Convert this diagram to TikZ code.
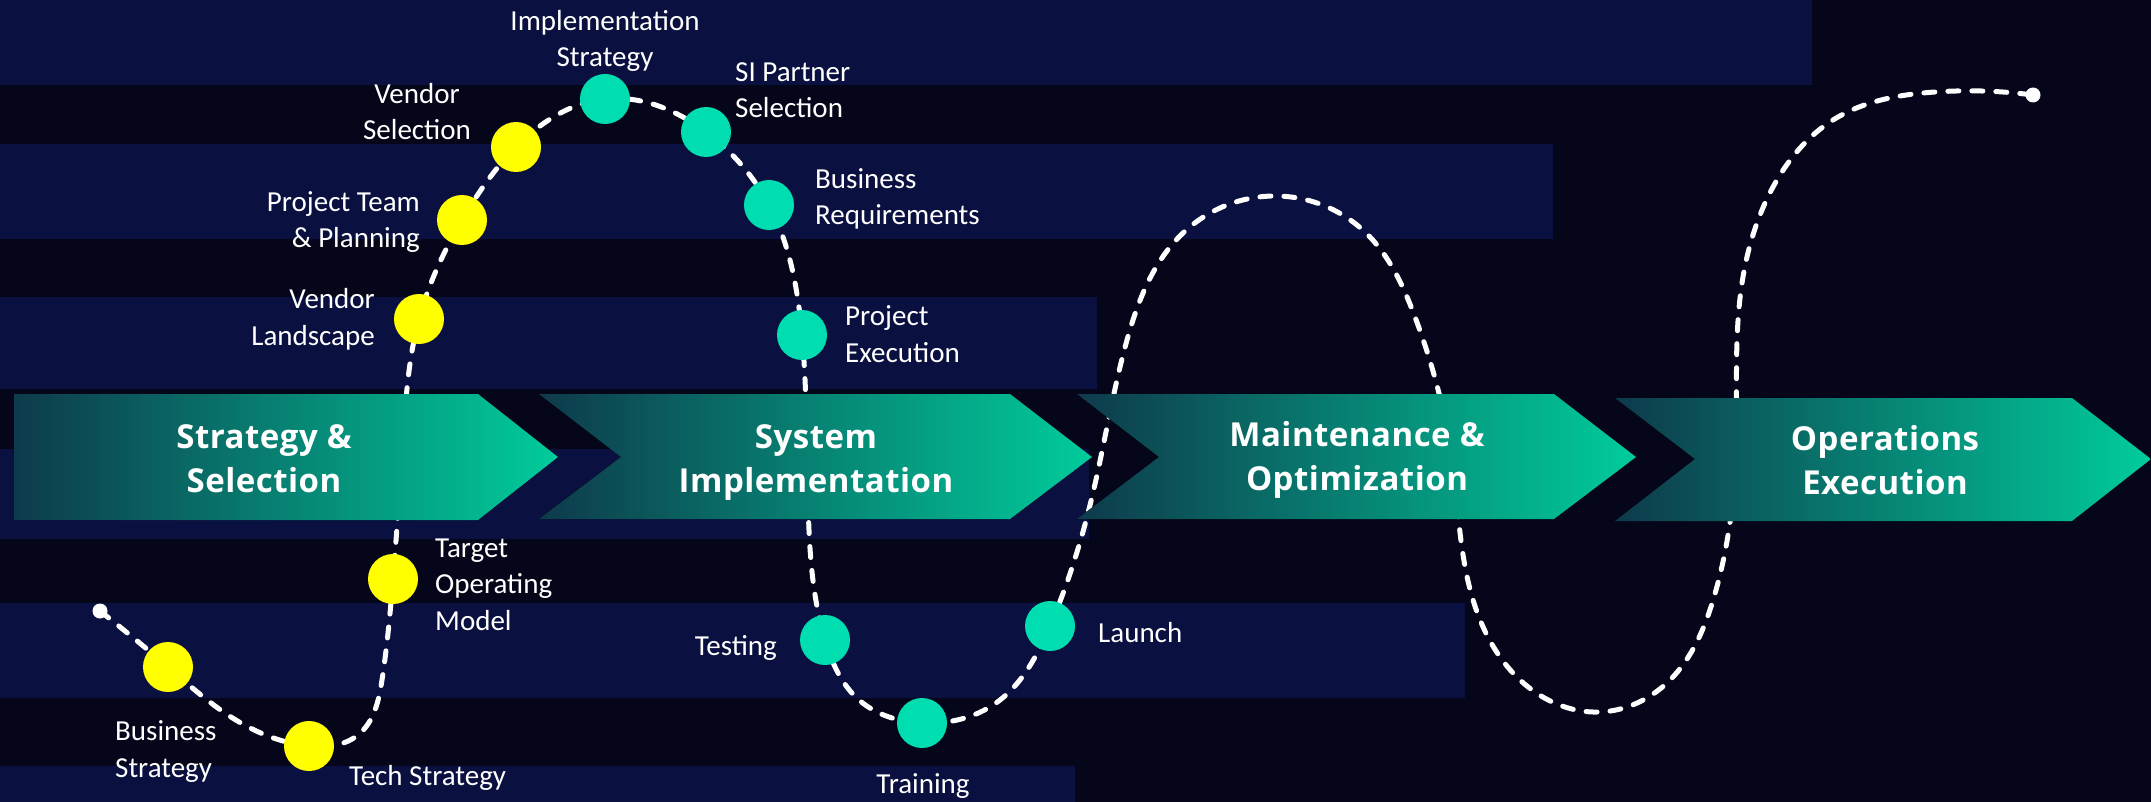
\documentclass[tikz,border=0pt]{standalone}
\usepackage{fontspec}
\newfontfamily\labelfont{Carlito}
\newfontfamily\titlefont{Open Sans}[LetterSpace=1.5]
\usetikzlibrary{hobby}
\definecolor{bgcol}{HTML}{05061A}
\definecolor{bandcol}{HTML}{0A1140}
\definecolor{arrL}{HTML}{0E3A4B}
\definecolor{arrR}{HTML}{00CC9C}
\definecolor{dotteal}{HTML}{00DDB0}
\definecolor{dotyel}{HTML}{FFFF00}
\begin{document}
\begin{tikzpicture}[x=1pt,y=-1pt,
  band/.style={fill=bandcol},
  chevron/.style={left color=arrL, right color=arrR, draw=none},
  milestone/.style={circle, inner sep=0pt, minimum size=50pt},
  ydot/.style={milestone, fill=dotyel},
  tdot/.style={milestone, fill=dotteal},
  enddot/.style={circle, fill=white, inner sep=0pt, minimum size=15pt},
  trail/.style={draw=white, line width=5pt, dash pattern=on 11pt off 13pt, line cap=round},
  lbl/.style={text=white, inner sep=0pt, font=\labelfont\fontsize{29}{36.5}\selectfont},
  ttl/.style={text=white, inner sep=0pt, align=center, font=\titlefont\bfseries\fontsize{33}{44}\selectfont}
]
\useasboundingbox (0,0) rectangle (2151,802);
\fill[bgcol] (0,0) rectangle (2151,802);
% bands
\fill[band] (0,0) rectangle (1812,85);
\fill[band] (0,144) rectangle (1553,239);
\fill[band] (0,297) rectangle (1097,389);
\fill[band] (0,449) rectangle (1089,539);
\fill[band] (0,603) rectangle (1465,698);
\fill[band] (0,766) rectangle (1075,802);

% milestone centres
\coordinate (c0) at (100,611);
\coordinate (cBS) at (168,667);
\coordinate (cTS) at (309,746);
\coordinate (cTOM) at (393,579);
\coordinate (cVL) at (419,319);
\coordinate (cPT) at (462,220);
\coordinate (cVS) at (516,147);
\coordinate (cIS) at (605,99);
\coordinate (cSI) at (706,132);
\coordinate (cBR) at (769,205);
\coordinate (cPE) at (802,335);
\coordinate (cTe) at (825,640);
\coordinate (cTr) at (922,723);
\coordinate (cLa) at (1050,626);
\coordinate (c1) at (2033,95);
% intermediate path points
\coordinate (q1) at (231,717);
\coordinate (q2) at (358,735);
\coordinate (q3) at (382,680);
\coordinate (q4) at (403,440);
\coordinate (q6) at (808,500);
\coordinate (q7) at (859,700);
\coordinate (q8) at (996,703);
\coordinate (q9) at (1092,497);
\coordinate (q10) at (1127,340);
\coordinate (q11) at (1183,233);
\coordinate (q12) at (1275,196);
\coordinate (q13) at (1366,233);
\coordinate (q14) at (1415,317);
\coordinate (q15) at (1452,460);
\coordinate (q16) at (1471,593);
\coordinate (q17) at (1520,680);
\coordinate (q18) at (1600,712);
\coordinate (q19) at (1670,680);
\coordinate (q20) at (1714,597);
\coordinate (q21) at (1736,450);
\coordinate (q22) at (1742,283);
\coordinate (q23) at (1773,187);
\coordinate (q24) at (1833,120);
\coordinate (q25) at (1935,92);

% dashed trail
\draw[trail, use Hobby shortcut] (c0) .. (cBS) .. (q1) .. (cTS) .. (q2) .. (q3) .. (cTOM) .. (q4) .. (cVL) .. (cPT) .. (cVS) .. (cIS) .. (cSI) .. (cBR) .. (cPE) .. (q6) .. (cTe) .. (q7) .. (cTr) .. (q8) .. (cLa) .. (q9) .. (q10) .. (q11) .. (q12) .. (q13) .. (q14) .. (q15) .. (q16) .. (q17) .. (q18) .. (q19) .. (q20) .. (q21) .. (q22) .. (q23) .. (q24) .. (q25) .. (c1);

% chevrons
\fill[chevron] (14,394) -- (478,394) -- (558,457) -- (478,520) -- (14,520) -- cycle;
\fill[chevron] (539,394) -- (1010,394) -- (1092,457) -- (1010,519) -- (539,519) -- (621,457) -- cycle;
\fill[chevron] (1077,394) -- (1554,394) -- (1636,457) -- (1554,519) -- (1077,519) -- (1159,457) -- cycle;
\fill[chevron] (1615,398) -- (2072,398) -- (2151,459) -- (2072,521) -- (1615,521) -- (1695,459) -- cycle;

\node[ttl, anchor=base] (t1) at (264,492) {Strategy \&\\Selection};
\node[ttl, anchor=base] (t2) at (816,492) {System\\Implementation};
\node[ttl, anchor=base] (t3) at (1357,490) {Maintenance \&\\Optimization};
\node[ttl, anchor=base] (t4) at (1885,494) {Operations\\Execution};

% dots
\node[enddot] (start) at (c0) {};
\node[enddot] (finish) at (c1) {};
\node[ydot] (BS) at (cBS) {};
\node[ydot] (TS) at (cTS) {};
\node[ydot] (TOM) at (cTOM) {};
\node[ydot] (VL) at (cVL) {};
\node[ydot] (PT) at (cPT) {};
\node[ydot] (VS) at (cVS) {};
\node[tdot] (IS) at (cIS) {};
\node[tdot] (SI) at (cSI) {};
\node[tdot] (BR) at (cBR) {};
\node[tdot] (PE) at (cPE) {};
\node[tdot] (Te) at (cTe) {};
\node[tdot] (Tr) at (cTr) {};
\node[tdot] (La) at (cLa) {};

% labels (anchor = baseline of last line)
\node[lbl, align=center, anchor=base] (lIS) at (605,67) {Implementation\\Strategy};
\node[lbl, align=center, anchor=base] (lVS) at (417,140) {Vendor\\Selection};
\node[lbl, align=right, anchor=base east] (lPT) at (420,248) {Project Team\\\& Planning};
\node[lbl, align=right, anchor=base east] (lVL) at (375,345) {Vendor\\Landscape};
\node[lbl, align=left, anchor=base west] (lSI) at (735,118) {SI Partner\\Selection};
\node[lbl, align=left, anchor=base west] (lBR) at (815,225) {Business\\Requirements};
\node[lbl, align=left, anchor=base west] (lPE) at (845,362) {Project\\Execution};
\node[lbl, align=left, anchor=base west] (lTOM) at (435,630) {Target\\Operating\\Model};
\node[lbl, align=left, anchor=base west] (lBS) at (115,777) {Business\\Strategy};
\node[lbl, anchor=base west] (lTS) at (349,785) {Tech Strategy};
\node[lbl, anchor=base east] (lTe) at (777,655) {Testing};
\node[lbl, anchor=base] (lTr) at (923,793) {Training};
\node[lbl, anchor=base west] (lLa) at (1098,642) {Launch};
\end{tikzpicture}
\end{document}
